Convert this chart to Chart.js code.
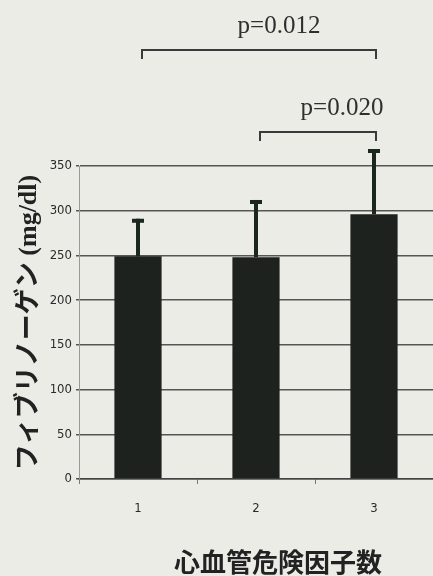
<!DOCTYPE html>
<html>
<head>
<meta charset="utf-8">
<script src="https://cdn.jsdelivr.net/npm/chart.js@4.4.1/dist/chart.umd.min.js"></script>
<style>
  html, body { margin: 0; padding: 0; background: #ecece7; }
  #wrap { width: 433px; height: 576px; }
</style>
</head>
<body>
<div id="wrap"><canvas id="fibChart"></canvas></div>
<script>
// data
const riskFactorCounts = ['1', '2', '3'];
const fibrinogenMeans = [249, 248, 296];
const fibrinogenSD = [42, 64, 73];
const yTicks = [0, 50, 100, 150, 200, 250, 300, 350];
const comparePairs = [[0, 2], [1, 2]];
const pLabels = ['p=0.012', 'p=0.020'];

const xTitle = '心血管危険因子数';
const yTitle = 'フィブリノーゲン (mg/dl)';

// error bars drawn from the bar tops using the y scale
const errorBars = {
    id: 'errorBars',
    afterDatasetsDraw(chart) {
        const ctx = chart.ctx;
        const y = chart.scales.y;
        const meta = chart.getDatasetMeta(0);
        ctx.save();
        ctx.fillStyle = '#1b261e';
        meta.data.forEach((bar, i) => {
            const top = y.getPixelForValue(fibrinogenMeans[i] + fibrinogenSD[i]);
            const base = y.getPixelForValue(fibrinogenMeans[i]);
            ctx.fillRect(bar.x - 2, top, 4, base - top);
            ctx.fillRect(bar.x - 6, top, 12, 4);
        });
        ctx.restore();
    }
};

// significance brackets + x title
const annotations = {
    id: 'annotations',
    afterDraw(chart) {
        const ctx = chart.ctx;
        const x = chart.scales.x;
        const area = chart.chartArea;
        const rises = [116, 34]; // px above plot top
        ctx.save();
        ctx.strokeStyle = '#3a3a3a';
        ctx.lineWidth = 2;
        ctx.fillStyle = '#2f2f2f';
        ctx.font = '25px "Liberation Serif", serif';
        ctx.textAlign = 'center';
        ctx.textBaseline = 'alphabetic';
        comparePairs.forEach((pair, i) => {
            const x1 = x.getPixelForValue(pair[0]) + 4;
            const x2 = x.getPixelForValue(pair[1]) + 2;
            const yy = area.top - rises[i];
            ctx.beginPath();
            ctx.moveTo(x1, yy + 9);
            ctx.lineTo(x1, yy);
            ctx.lineTo(x2, yy);
            ctx.lineTo(x2, yy + 9);
            ctx.stroke();
            const lx = i === 0 ? (x1 + x2) / 2 + 20 : (x1 + x2) / 2 + 24;
            ctx.fillText(pLabels[i], lx, yy - 17);
        });
        ctx.fillStyle = '#222';
        ctx.font = 'bold 26px "Noto Sans CJK JP", sans-serif';
        ctx.textBaseline = 'middle';
        ctx.fillText(xTitle, 278, 562);
        ctx.restore();
    }
};

new Chart(document.getElementById('fibChart'), {
    type: 'bar',
    data: {
        labels: riskFactorCounts,
        datasets: [{
            data: fibrinogenMeans,
            backgroundColor: '#1e221f',
            barPercentage: 0.4,
            categoryPercentage: 1.0
        }]
    },
    options: {
        responsive: true,
        maintainAspectRatio: false,
        animation: false,
        layout: { padding: { top: 166, left: 0, right: 0, bottom: 0 } },
        plugins: {
            legend: { display: false },
            tooltip: { enabled: false }
        },
        scales: {
            x: {
                afterFit(scale) { scale.height = 97; },
                grid: {
                    offset: true,
                    drawOnChartArea: false,
                    tickLength: 5,
                    color: '#777'
                },
                border: { color: '#444', width: 1.5 },
                ticks: {
                    padding: 17,
                    color: '#2a2a2a',
                    font: { family: '"Liberation Sans Narrow", "DejaVu Sans Condensed", sans-serif', size: 13 }
                }
            },
            y: {
                min: 0,
                max: 350,
                afterFit(scale) { scale.width = 79; },
                afterBuildTicks(scale) { scale.ticks = yTicks.map(v => ({ value: v })); },
                grid: {
                    color: '#555',
                    lineWidth: 1.5,
                    tickLength: 3
                },
                border: { color: '#999', width: 1 },
                ticks: {
                    padding: 4,
                    color: '#2a2a2a',
                    font: { family: '"Liberation Sans Narrow", "DejaVu Sans Condensed", sans-serif', size: 13 }
                },
                title: {
                    display: true,
                    text: yTitle,
                    color: '#222',
                    padding: { top: 14, bottom: 0 },
                    font: { family: '"Liberation Serif", "Noto Sans CJK JP", serif', size: 26, weight: 'bold' }
                }
            }
        }
    },
    plugins: [errorBars, annotations]
});
</script>
</body>
</html>
